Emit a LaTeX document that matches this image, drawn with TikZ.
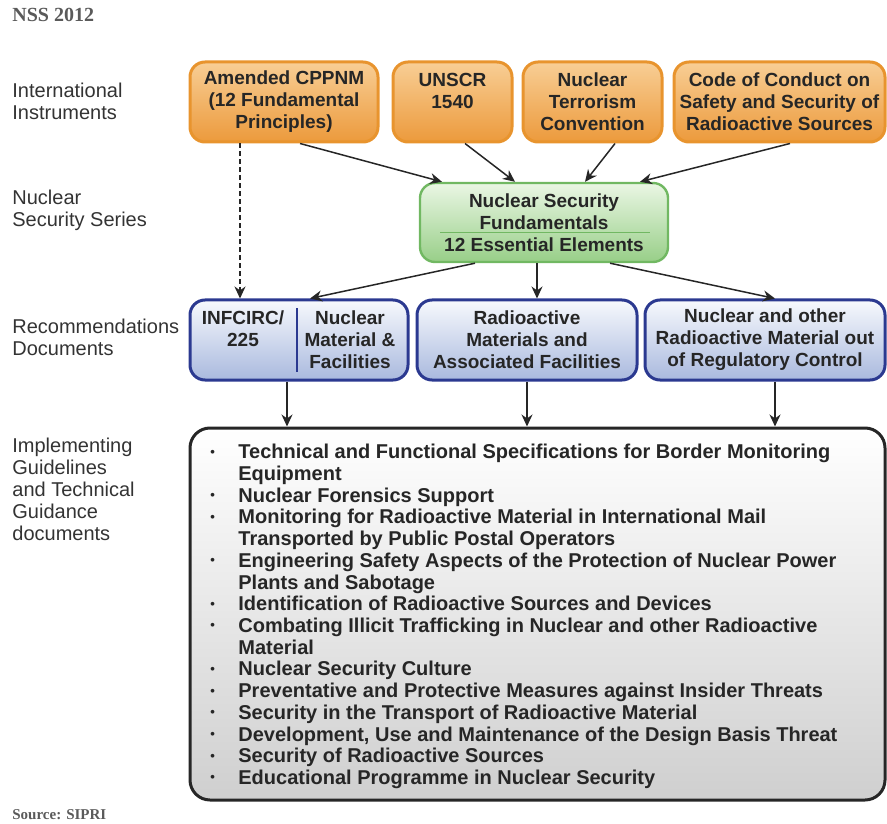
\documentclass[tikz,border=0pt]{standalone}
\usepackage{amsmath}
\usepackage{fontspec}
\setmainfont{Liberation Sans}
\newfontfamily\srcfont{Liberation Serif}
\usetikzlibrary{arrows.meta}

\definecolor{txtdark}{HTML}{262626}
\definecolor{sidegray}{HTML}{333333}
\definecolor{srcgray}{HTML}{5A5A5A}
\definecolor{orgtop}{HTML}{F8CE95}
\definecolor{orgbot}{HTML}{EC9A3C}
\definecolor{orgline}{HTML}{E8942E}
\definecolor{grntop}{HTML}{EAF6E4}
\definecolor{grnbot}{HTML}{98CF88}
\definecolor{grnline}{HTML}{71B862}
\definecolor{blutop}{HTML}{F7F9FD}
\definecolor{blubot}{HTML}{A9B9DE}
\definecolor{bluline}{HTML}{2B3990}
\definecolor{bigbot}{HTML}{CFCFCF}

\newcommand{\bul}{\makebox[14pt][l]{\raisebox{1.3pt}{\fontsize{6.5}{6.5}\selectfont\textbullet}}}
\newcommand{\cont}{\hspace*{14pt}}

\begin{document}
\begin{tikzpicture}[x=0.5pt,y=-0.5pt,
	boxtext/.style={font=\bfseries\fontsize{9.5}{11}\selectfont,text=txtdark,align=center,inner sep=0pt},
	orangebox/.style={boxtext,rounded corners=7.5pt,draw=orgline,line width=1.5pt,top color=orgtop,bottom color=orgbot,minimum height=40pt},
	greenbox/.style={boxtext,rounded corners=7.5pt,draw=grnline,line width=1.2pt,top color=grntop,bottom color=grnbot},
	bluebox/.style={boxtext,rounded corners=7.5pt,draw=bluline,line width=1.5pt,top color=blutop,bottom color=blubot,minimum height=40pt},
	bigbox/.style={rounded corners=10pt,draw=txtdark,line width=1.5pt,top color=white,bottom color=bigbot},
	sidelabel/.style={font=\fontsize{10}{11}\selectfont,text=sidegray,align=left,anchor=west,inner sep=0pt},
	srclabel/.style={font=\srcfont\bfseries,text=srcgray,anchor=west,inner sep=0pt},
	link/.style={-{Stealth[length=6pt,width=5.5pt]},line width=0.75pt,draw=txtdark},
	dashlink/.style={link,line width=1.1pt,dash pattern=on 2.5pt off 1.5pt}
	]
	
		\useasboundingbox (0,0) rectangle (887,823);
	
		\node[srclabel,font=\srcfont\bfseries\fontsize{10}{11}\selectfont] (nss) at (12,15) {NSS 2012};
		\node[srclabel,font=\srcfont\bfseries\fontsize{7.5}{9}\selectfont] (src) at (12,815) {Source: SIPRI};
	
		% side captions
		\node[sidelabel] (s1) at (12,101)   {International\\Instruments};
		\node[sidelabel] (s2) at (12,210.5) {Nuclear\\Security Series};
		\node[sidelabel] (s3) at (12,337)   {Recommendations\\Documents};
		\node[sidelabel] (s4) at (12,489.5) {Implementing\\Guidelines\\and Technical\\Guidance\\documents};
	
		% international instruments
		\node[orangebox,minimum width=94pt]    (a) at (284,102)   {Amended CPPNM\\(12 Fundamental\\Principles)};
		\node[orangebox,minimum width=59.5pt]  (b) at (452.5,102) {UNSCR\\1540\\~};
		\node[orangebox,minimum width=69.5pt]  (c) at (592.5,102) {Nuclear\\Terrorism\\Convention};
		\node[orangebox,minimum width=105.5pt] (d) at (779.5,102) {Code of Conduct on\\Safety and Security of\\Radioactive Sources};
	
		% fundamentals
		\node[greenbox,minimum width=124pt,minimum height=39.5pt] (g) at (544,222.5) {Nuclear Security\\Fundamentals\\12 Essential Elements};
		\draw[grnline,line width=0.5pt] (440,233) -- (650,233);
	
		% recommendations
		\node[bluebox,minimum width=109pt] (e) at (299,340) {};
		\node[boxtext] (e1) at (243,340) {INFCIRC/\\225\\~};
		\node[boxtext] (e2) at (350,340) {Nuclear\\Material \&\\Facilities};
		\draw[bluline,line width=0.6pt] (297,308) -- (297,372);
		\node[bluebox,minimum width=110pt] (f) at (527,340) {Radioactive\\Materials and\\Associated Facilities};
		\node[bluebox,minimum width=120pt] (h) at (765,340) {Nuclear and other\\Radioactive Material out\\of Regulatory Control};
	
		% guidance documents
		\node[bigbox,minimum width=347.5pt,minimum height=186pt] (l) at (537.5,614) {};
		\node[boxtext,align=left,anchor=north west,font=\bfseries\fontsize{10}{10.85}\selectfont] (t) at (210,444) {%
			\bul Technical and Functional Specifications for Border Monitoring\\
			\cont Equipment\\
			\bul Nuclear Forensics Support\\
			\bul Monitoring for Radioactive Material in International Mail\\
			\cont Transported by Public Postal Operators\\
			\bul Engineering Safety Aspects of the Protection of Nuclear Power\\
			\cont Plants and Sabotage\\
			\bul Identification of Radioactive Sources and Devices\\
			\bul Combating Illicit Trafficking in Nuclear and other Radioactive\\
			\cont Material\\
			\bul Nuclear Security Culture\\
			\bul Preventative and Protective Measures against Insider Threats\\
			\bul Security in the Transport of Radioactive Material\\
			\bul Development, Use and Maintenance of the Design Basis Threat\\
			\bul Security of Radioactive Sources\\
			\bul Educational Programme in Nuclear Security};
	
		\draw[link] ([xshift=8pt]a.south)     -- ([xshift=-51pt]g.north);
		\draw[link] ([xshift=6.25pt]b.south)  -- ([xshift=-14.5pt]g.north);
		\draw[link] ([xshift=11.25pt]c.south) -- ([xshift=20.5pt]g.north);
		\draw[link] ([xshift=5.25pt]d.south)  -- ([xshift=48pt]g.north);
		\draw[dashlink] ([xshift=-22pt]a.south) -- ([xshift=-29.5pt]e.north);
		\draw[link] ([xshift=-34.5pt]g.south) -- ([xshift=5.5pt]e.north);
		\draw[link] ([xshift=-3.5pt]g.south)  -- ([xshift=5pt]f.north);
		\draw[link] ([xshift=33pt]g.south)    -- ([xshift=5pt]h.north);
		\draw[link] ([xshift=-6pt]e.south)    -- ([xshift=-125.25pt]l.north);
		\draw[link] (f.south)                 -- ([xshift=-5.25pt]l.north);
		\draw[link] ([xshift=5pt]h.south)     -- ([xshift=118.75pt]l.north);
	
\end{tikzpicture}
\end{document}
